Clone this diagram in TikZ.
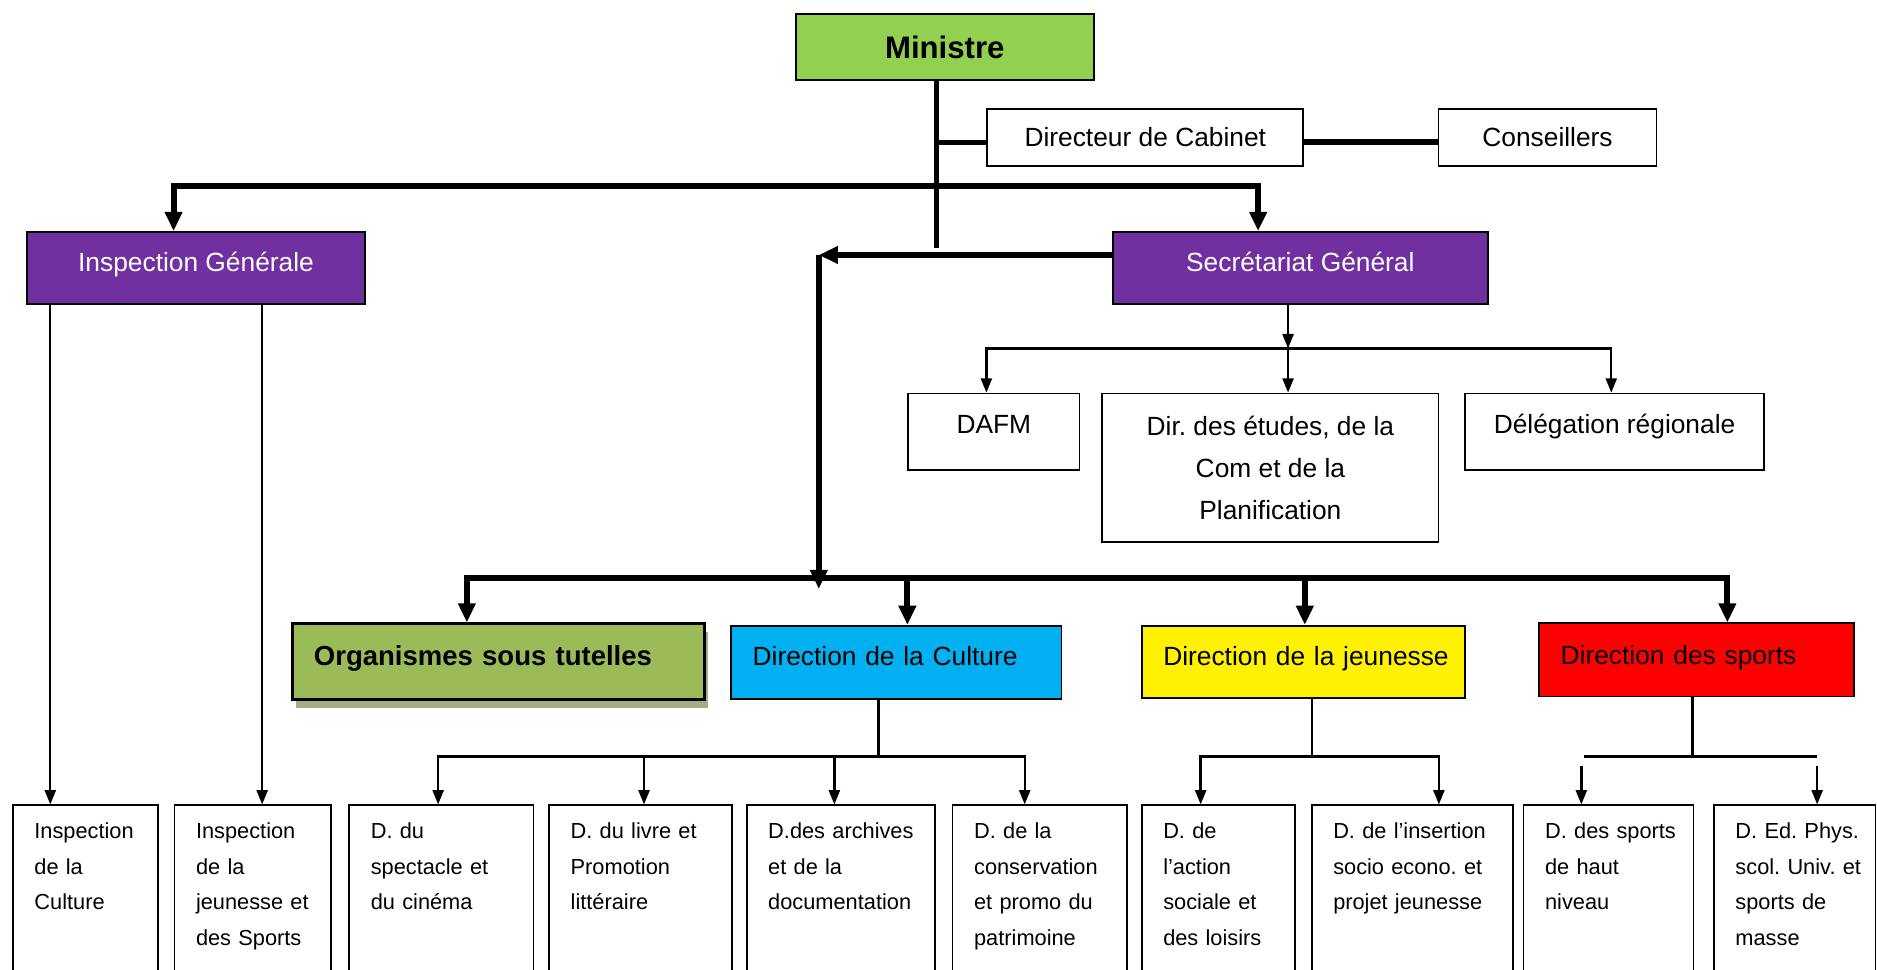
\documentclass[tikz,border=0pt]{standalone}
\usepackage{fontspec}
\setmainfont{Liberation Sans}
\usetikzlibrary{arrows.meta,shadows}
\definecolor{mingreen}{HTML}{92D050}
\definecolor{ipurple}{HTML}{7030A0}
\definecolor{orggreen}{HTML}{9BBB59}
\definecolor{culblue}{HTML}{00B0F0}
\definecolor{shd}{HTML}{A3AD86}
\frenchspacing

\begin{document}
\begin{tikzpicture}[x=0.5pt, y=-0.5pt, >={Triangle[length=6pt,width=4.6pt]},
    box/.style={draw, line width=0.75pt, anchor=north west, inner sep=0pt,
                font=\fontsize{11}{17.5}\selectfont},
    one/.style={text height=16.5pt, text depth=#1},
    lft/.style={align=left, inner xsep=9pt, text width=#1},
    leaf/.style={draw, line width=0.75pt, anchor=north west, align=left,
                 inner xsep=9pt, inner ysep=0pt, text height=14pt, text depth=62pt,
                 font=\fontsize{9.1}{14.85}\selectfont},
    thk/.style={line width=2.5pt, >={Triangle[length=8pt,width=7pt]}},
    thn/.style={line width=1pt}
   ]
\clip (0,0) rectangle (1568,810);

% top of the chart
\node[box, fill=mingreen, minimum width=124.5pt, minimum height=27.5pt,
      font=\fontsize{13}{15}\selectfont\bfseries] (min) at (664,11) {Ministre};
\node[box, minimum width=132pt, minimum height=24pt] (dc) at (824,90) {Directeur de Cabinet};
\node[box, minimum width=91pt, minimum height=24pt] (cons) at (1201,90) {Conseillers};
\node[box, fill=ipurple, text=white, minimum width=141pt, one=13.5pt] (ig) at (22,193) {Inspection Générale};
\node[box, fill=ipurple, text=white, minimum width=156.5pt, one=13.5pt] (sg) at (929,193) {Secrétariat Général};

% services of the SG
\node[box, minimum width=71.5pt, one=15.5pt] (dafm) at (758,328) {DAFM};
\node[box, minimum width=140.5pt, minimum height=62pt, align=center] (dep) at (920,328)
     {Dir. des études, de la\\Com et de la\\Planification};
\node[box, minimum width=125pt, one=15.5pt] (dr) at (1223,328) {Délégation régionale};

% directions
\node[box, lft=154pt, line width=1.2pt, fill=orggreen, text height=17.5pt, text depth=14pt,
      drop shadow={shadow xshift=1.5pt, shadow yshift=-3.5pt, fill=shd, opacity=1},
      font=\fontsize{11.5}{14}\selectfont\bfseries] (ost) at (243,520) {Organismes sous tutelles};
\node[box, lft=120pt, fill=culblue, one=14pt] (dcu) at (610,522) {Direction de la Culture};
\node[box, lft=117pt, fill=yellow, one=13.5pt] (dje) at (953,522) {\mbox{Direction de la jeunesse}};
\node[box, lft=113.5pt, fill=red, text height=17pt, text depth=13.5pt] (dsp) at (1285,520) {Direction des sports};

% bottom row
\foreach \i/\l/\r/\txt in {
    1/10/131/{Inspection\\de la\\Culture},
    2/145/276/{Inspection\\de la\\jeunesse~et\\des Sports},
    3/291/445/{D. du\\spectacle et\\du cinéma},
    4/458/611/{D. du livre et\\Promotion\\littéraire},
    5/623/780/{D.des~archives\\et de la\\documentation},
    6/795/941/{D. de la\\conservation\\et promo du\\patrimoine},
    7/953/1081/{D. de\\l’action\\sociale et\\des loisirs},
    8/1095/1263/{D. de l’insertion\\socio econo. et\\projet jeunesse},
    9/1272/1414/{D.~des~sports\\de haut\\niveau},
    10/1431/1566/{D.~Ed.~Phys.\\scol.~Univ.~et\\sports de\\masse}}
{
  \pgfmathsetmacro\tw{(\r-\l)/2-18}
  \node[leaf, text width=\tw pt] (b\i) at (\l,672) {\txt};
}

\coordinate (tk) at (782,207);
\coordinate (hub) at (782,155);
\coordinate (sgl) at (684,213);
\coordinate (bar) at (684,483);
\coordinate (sgj) at (1076,291);
\coordinate (cj) at (734,632);
\coordinate (jj) at (1096,632);
\coordinate (sj) at (1414,632);

\draw[line width=2pt] (min.south -| tk) -- (tk);
\draw[line width=2pt] ([yshift=-2pt]dc.west -| tk) -- ([yshift=-2pt]dc.west);
\draw[line width=2.5pt] ([yshift=-2pt]dc.east) -- ([yshift=-2pt]cons.west);
\draw[thk,->] (hub) -| (ig.north -| 145,0);
\draw[thk,->] (hub) -| (sg.north -| 1051,0);
\draw[thk,->] (sg.west |- sgl) -- (sgl);
\draw[thk,->] (sgl) -- ([yshift=-4.5pt]bar);

\foreach \n/\x in {ost/390, dcu/758, dje/1090, dsp/1443}
  \draw[thk,->] (bar) -| (\n.north -| \x,0);

\draw[thn,->] (sg.south -| sgj) -- (sgj);
\foreach \n/\x in {dafm/824, dep/1076, dr/1346}
  \draw[thn,->] (sgj) -| (\n.north -| \x,0);

\foreach \n/\x in {b1/42, b2/219}
  \draw[thn,->] (ig.south -| \x,0) -- (\n.north -| \x,0);

\draw[thn] (dcu.south -| cj) -- (cj);
\foreach \n/\x in {b3/366, b4/538, b5/697, b6/856}
  \draw[thn,->] (cj) -| (\n.north -| \x,0);

\draw[thn] (dje.south -| jj) -- (jj);
\foreach \n/\x in {b7/1003, b8/1202}
  \draw[thn,->] (jj) -| (\n.north -| \x,0);

\draw[thn] (dsp.south -| sj) -- (sj);
\draw[thn] (sj -| 1323,0) -- (sj -| 1518,0);
\foreach \n/\x in {b9/1321, b10/1518}
  \draw[thn,->] ([yshift=-4pt]sj -| \x,0) -- (\n.north -| \x,0);

\end{tikzpicture}
\end{document}
